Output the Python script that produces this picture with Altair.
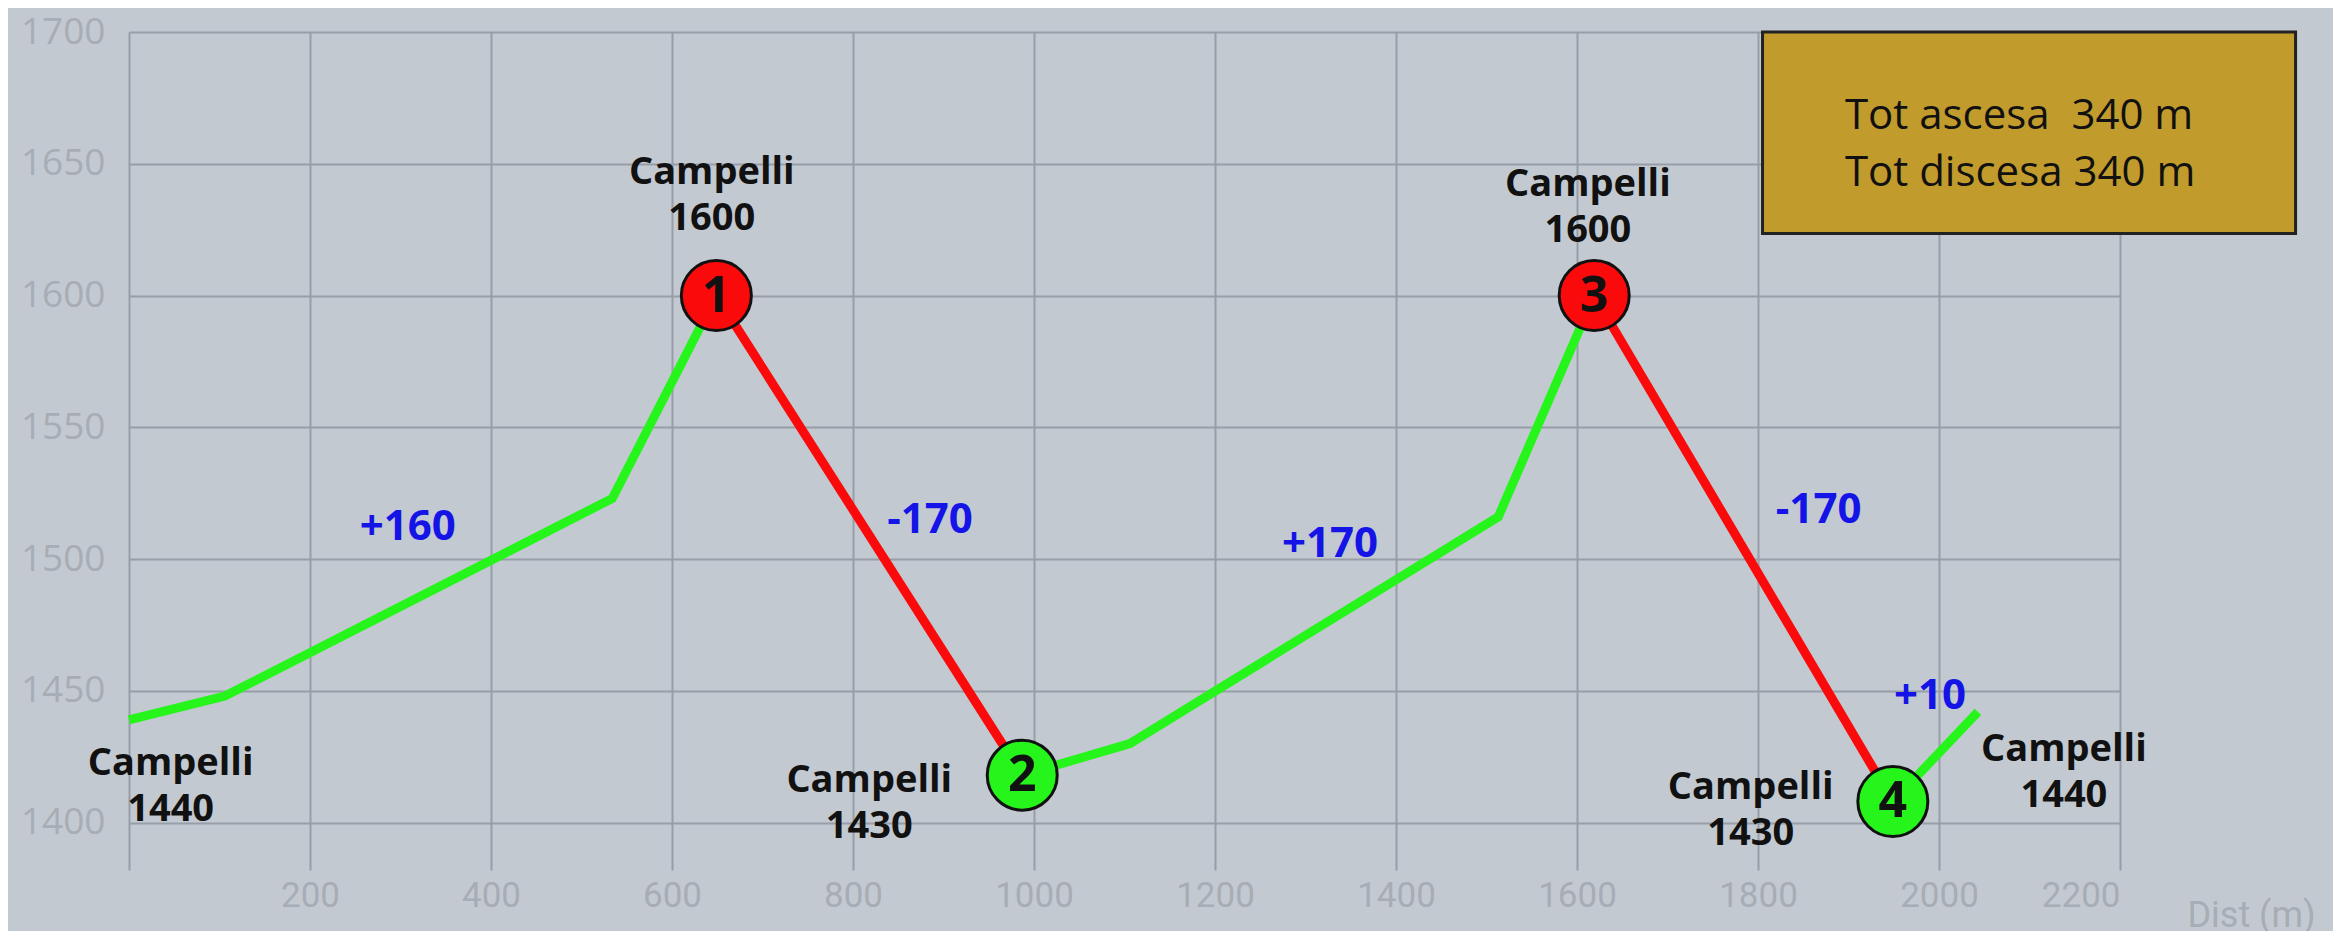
import altair as alt
import pandas as pd

# ---- profile data (distance m, elevation m) ----
dist = [0, 106, 534, 649, 987, 1106, 1513, 1619, 1949, 2043]
elev = [1439, 1448, 1523, 1600, 1418, 1430, 1516, 1600, 1408, 1442]
# segments: (first index, last index, kind)
seg_start = [0, 3, 4, 7, 8]
seg_end = [3, 4, 7, 8, 9]
seg_kind = ["up", "down", "up", "down", "up"]

# numbered stops
stop_index = [3, 4, 7, 8]
stop_num = ["1", "2", "3", "4"]
stop_kind = ["down", "up", "down", "up"]

# place labels
place_text = ["Campelli\n1440", "Campelli\n1600", "Campelli\n1430",
              "Campelli\n1600", "Campelli\n1430", "Campelli\n1440"]
place_x = [46, 644, 818, 1612, 1792, 2138]
place_y = [1414, 1638, 1407.5, 1633.6, 1404.7, 1419]

# climb / descent labels
delta_text = ["+160", "-170", "+170", "-170", "+10"]
delta_x = [308, 885, 1327, 1867, 1990]
delta_y = [1512, 1514.7, 1505.7, 1518.8, 1448.1]

# summary box
box_x = [1805]
box_x2 = [2394]
box_y = [1700]
box_y2 = [1623.5]
box_text = ["Tot ascesa\u00a0 340 m\nTot discesa 340 m"]
box_text_x = [1896]
box_text_y = [1657.5]

x_ticks = list(range(0, 2201, 200))
y_ticks = [1400, 1450, 1500, 1550, 1600, 1650, 1700]

GREEN = "#26f51c"
RED = "#fa0a0a"
BG = "#c3c9d1"
GRID = "#979ea8"
LABEL = "#a7adb5"

rows = []
for s, (a, b, k) in enumerate(zip(seg_start, seg_end, seg_kind)):
    for i in range(a, b + 1):
        rows.append({"seg": s, "kind": k, "order": i, "dist": dist[i], "elev": elev[i]})
line_df = pd.DataFrame(rows)

stops_df = pd.DataFrame({
    "dist": [dist[i] for i in stop_index],
    "elev": [elev[i] for i in stop_index],
    "num": stop_num,
    "kind": stop_kind,
})
place_df = pd.DataFrame({"dist": place_x, "elev": place_y, "txt": place_text})
delta_df = pd.DataFrame({"dist": delta_x, "elev": delta_y, "txt": delta_text})
box_df = pd.DataFrame({"dist": box_x, "dist2": box_x2, "elev": box_y, "elev2": box_y2})
boxt_df = pd.DataFrame({"dist": box_text_x, "elev": box_text_y, "txt": box_text})

xs = alt.Scale(domain=[0, 2200], nice=False, zero=False)
ys = alt.Scale(domain=[1382, 1700], nice=False, zero=False)
color_scale = alt.Scale(domain=["up", "down"], range=[GREEN, RED])

x_axis = alt.Axis(
    values=x_ticks, format="d",
    labelExpr="datum.value == 0 ? '' : datum.label",
    grid=True, gridColor=GRID, gridWidth=2, gridOpacity=1,
    domain=False, ticks=False, tickSize=0,
    labelFont="Roboto", labelFontSize=35, labelColor=LABEL,
    labelPadding=25, labelBaseline="middle",
    title="Dist (m)", titleX=2122, titleY=45, titleAlign="center",
    titleBaseline="middle", titleFont="Roboto", titleFontSize=36,
    titleFontWeight="normal", titleColor=LABEL,
)
y_axis = alt.Axis(
    values=y_ticks, format="d",
    grid=True, gridColor=GRID, gridWidth=2, gridOpacity=1,
    domain=False, ticks=False, tickSize=0,
    labelFont="Open Sans", labelFontSize=37, labelColor=LABEL,
    labelPadding=24, title=None,
)

line = alt.Chart(line_df).mark_line(strokeWidth=9, strokeCap="butt", strokeJoin="miter").encode(
    x=alt.X("dist:Q", scale=xs, axis=x_axis),
    y=alt.Y("elev:Q", scale=ys, axis=y_axis),
    color=alt.Color("kind:N", scale=color_scale, legend=None),
    detail="seg:N",
    order="order:Q",
)

box = alt.Chart(box_df).mark_rect(fill="#c29b2d", stroke="#222222", strokeWidth=3).encode(
    x=alt.X("dist:Q", scale=xs), x2="dist2:Q",
    y=alt.Y("elev:Q", scale=ys), y2="elev2:Q",
)

box_txt = alt.Chart(boxt_df).mark_text(
    font="Open Sans", fontSize=42, color="#111111", align="left",
    baseline="middle", lineBreak="\n", lineHeight=57, dy=-28,
).encode(x=alt.X("dist:Q", scale=xs), y=alt.Y("elev:Q", scale=ys), text="txt:N")

circles = alt.Chart(stops_df).mark_circle(size=4900, opacity=1, stroke="#111111", strokeWidth=3).encode(
    x=alt.X("dist:Q", scale=xs), y=alt.Y("elev:Q", scale=ys),
    fill=alt.Fill("kind:N", scale=color_scale, legend=None),
)

nums = alt.Chart(stops_df).mark_text(
    font="Open Sans", fontWeight="bold", fontSize=50, color="#111111",
    align="center", baseline="middle", dy=1,
).encode(x=alt.X("dist:Q", scale=xs), y=alt.Y("elev:Q", scale=ys), text="num:N")

places = alt.Chart(place_df).mark_text(
    font="Open Sans", fontWeight="bold", fontSize=38, color="#111111",
    align="center", baseline="middle", lineBreak="\n", lineHeight=46, dy=-22,
).encode(x=alt.X("dist:Q", scale=xs), y=alt.Y("elev:Q", scale=ys), text="txt:N")

deltas = alt.Chart(delta_df).mark_text(
    font="Open Sans", fontWeight="bold", fontSize=42, color="#1414e6",
    align="center", baseline="middle",
).encode(x=alt.X("dist:Q", scale=xs), y=alt.Y("elev:Q", scale=ys), text="txt:N")

chart = alt.layer(line, box, box_txt, circles, nums, places, deltas).properties(
    width=1991, height=838,
    autosize=alt.AutoSizeParams(type="none"),
    padding={"left": 121, "top": 24, "right": 213, "bottom": 61},
    background=BG,
).configure_view(stroke=None)

chart.save("out.html", embed_options={"renderer": "svg", "actions": False})
